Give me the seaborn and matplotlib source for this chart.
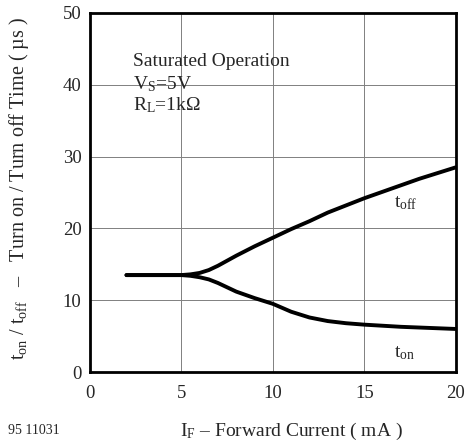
import matplotlib
matplotlib.use('Agg')
import matplotlib.pyplot as plt
import pandas as pd
import seaborn as sns

# values
i_f = [2, 3, 4, 5, 5.5, 6, 6.5, 7, 7.5, 8, 9, 10, 11, 12, 13, 14, 15, 16, 17, 18, 19, 20]
t_off = [13.5, 13.5, 13.5, 13.5, 13.6, 13.8, 14.2, 14.8, 15.5, 16.2, 17.5, 18.7, 19.9, 21.0, 22.2, 23.2, 24.2, 25.1, 26.0, 26.9, 27.7, 28.5]
t_on = [13.5, 13.5, 13.5, 13.5, 13.4, 13.2, 12.9, 12.4, 11.8, 11.2, 10.3, 9.5, 8.4, 7.6, 7.1, 6.8, 6.6, 6.45, 6.3, 6.2, 6.1, 6.0]

x_ticks = [0, 5, 10, 15, 20]
y_ticks = [0, 10, 20, 30, 40, 50]

df = pd.DataFrame({'IF': i_f, 'toff': t_off, 'ton': t_on})

sns.set_style('white')
plt.rcParams['font.family'] = ['Liberation Serif', 'DejaVu Serif']
plt.rcParams['mathtext.fontset'] = 'custom'
plt.rcParams['mathtext.rm'] = 'Liberation Serif'
plt.rcParams['mathtext.it'] = 'Liberation Serif'

fig = plt.figure(figsize=(4.68, 4.44), dpi=100)
ax = fig.add_axes([0.192, 0.162, 0.782, 0.809])

sns.lineplot(data=df, x='IF', y='toff', color='black', linewidth=2.8, ax=ax)
sns.lineplot(data=df, x='IF', y='ton', color='black', linewidth=2.8, ax=ax)

ax.set_xlim(0, 20)
ax.set_ylim(0, 50)
ax.set_xticks(x_ticks)
ax.set_yticks(y_ticks)
ax.tick_params(axis='both', length=0, labelsize=13.5)
ax.tick_params(axis='x', pad=9)
ax.tick_params(axis='y', pad=6)
ax.grid(True, color='#808080', linewidth=0.7)
for s in ax.spines.values():
    s.set_color('black')
    s.set_linewidth(2)

ax.set_xlabel(r'$\mathregular{I_F}$ – Forward Current ( mA )', fontsize=14)
ax.xaxis.set_label_coords(0.552, -0.135)
ax.set_ylabel(r'$\mathregular{t_{on}}$ / $\mathregular{t_{off}}$   –   Turn on / Turn off Time ( µs )',
              fontsize=14.5)
ax.yaxis.set_label_coords(-0.16, 0.51)

ax.text(2.35, 42.6, 'Saturated Operation', fontsize=14)
ax.text(2.35, 39.3, r'$\mathregular{V_S}$=5V', fontsize=14)
ax.text(2.35, 36.4, r'$\mathregular{R_L}$=1k$\mathregular{\Omega}$', fontsize=14)
ax.text(16.6, 23.0, r'$\mathregular{t_{off}}$', fontsize=14)
ax.text(16.6, 2.1, r'$\mathregular{t_{on}}$', fontsize=14)

fig.text(0.017, 0.022, '95 11031', fontsize=10)

fig.savefig('out.png', dpi=100)
